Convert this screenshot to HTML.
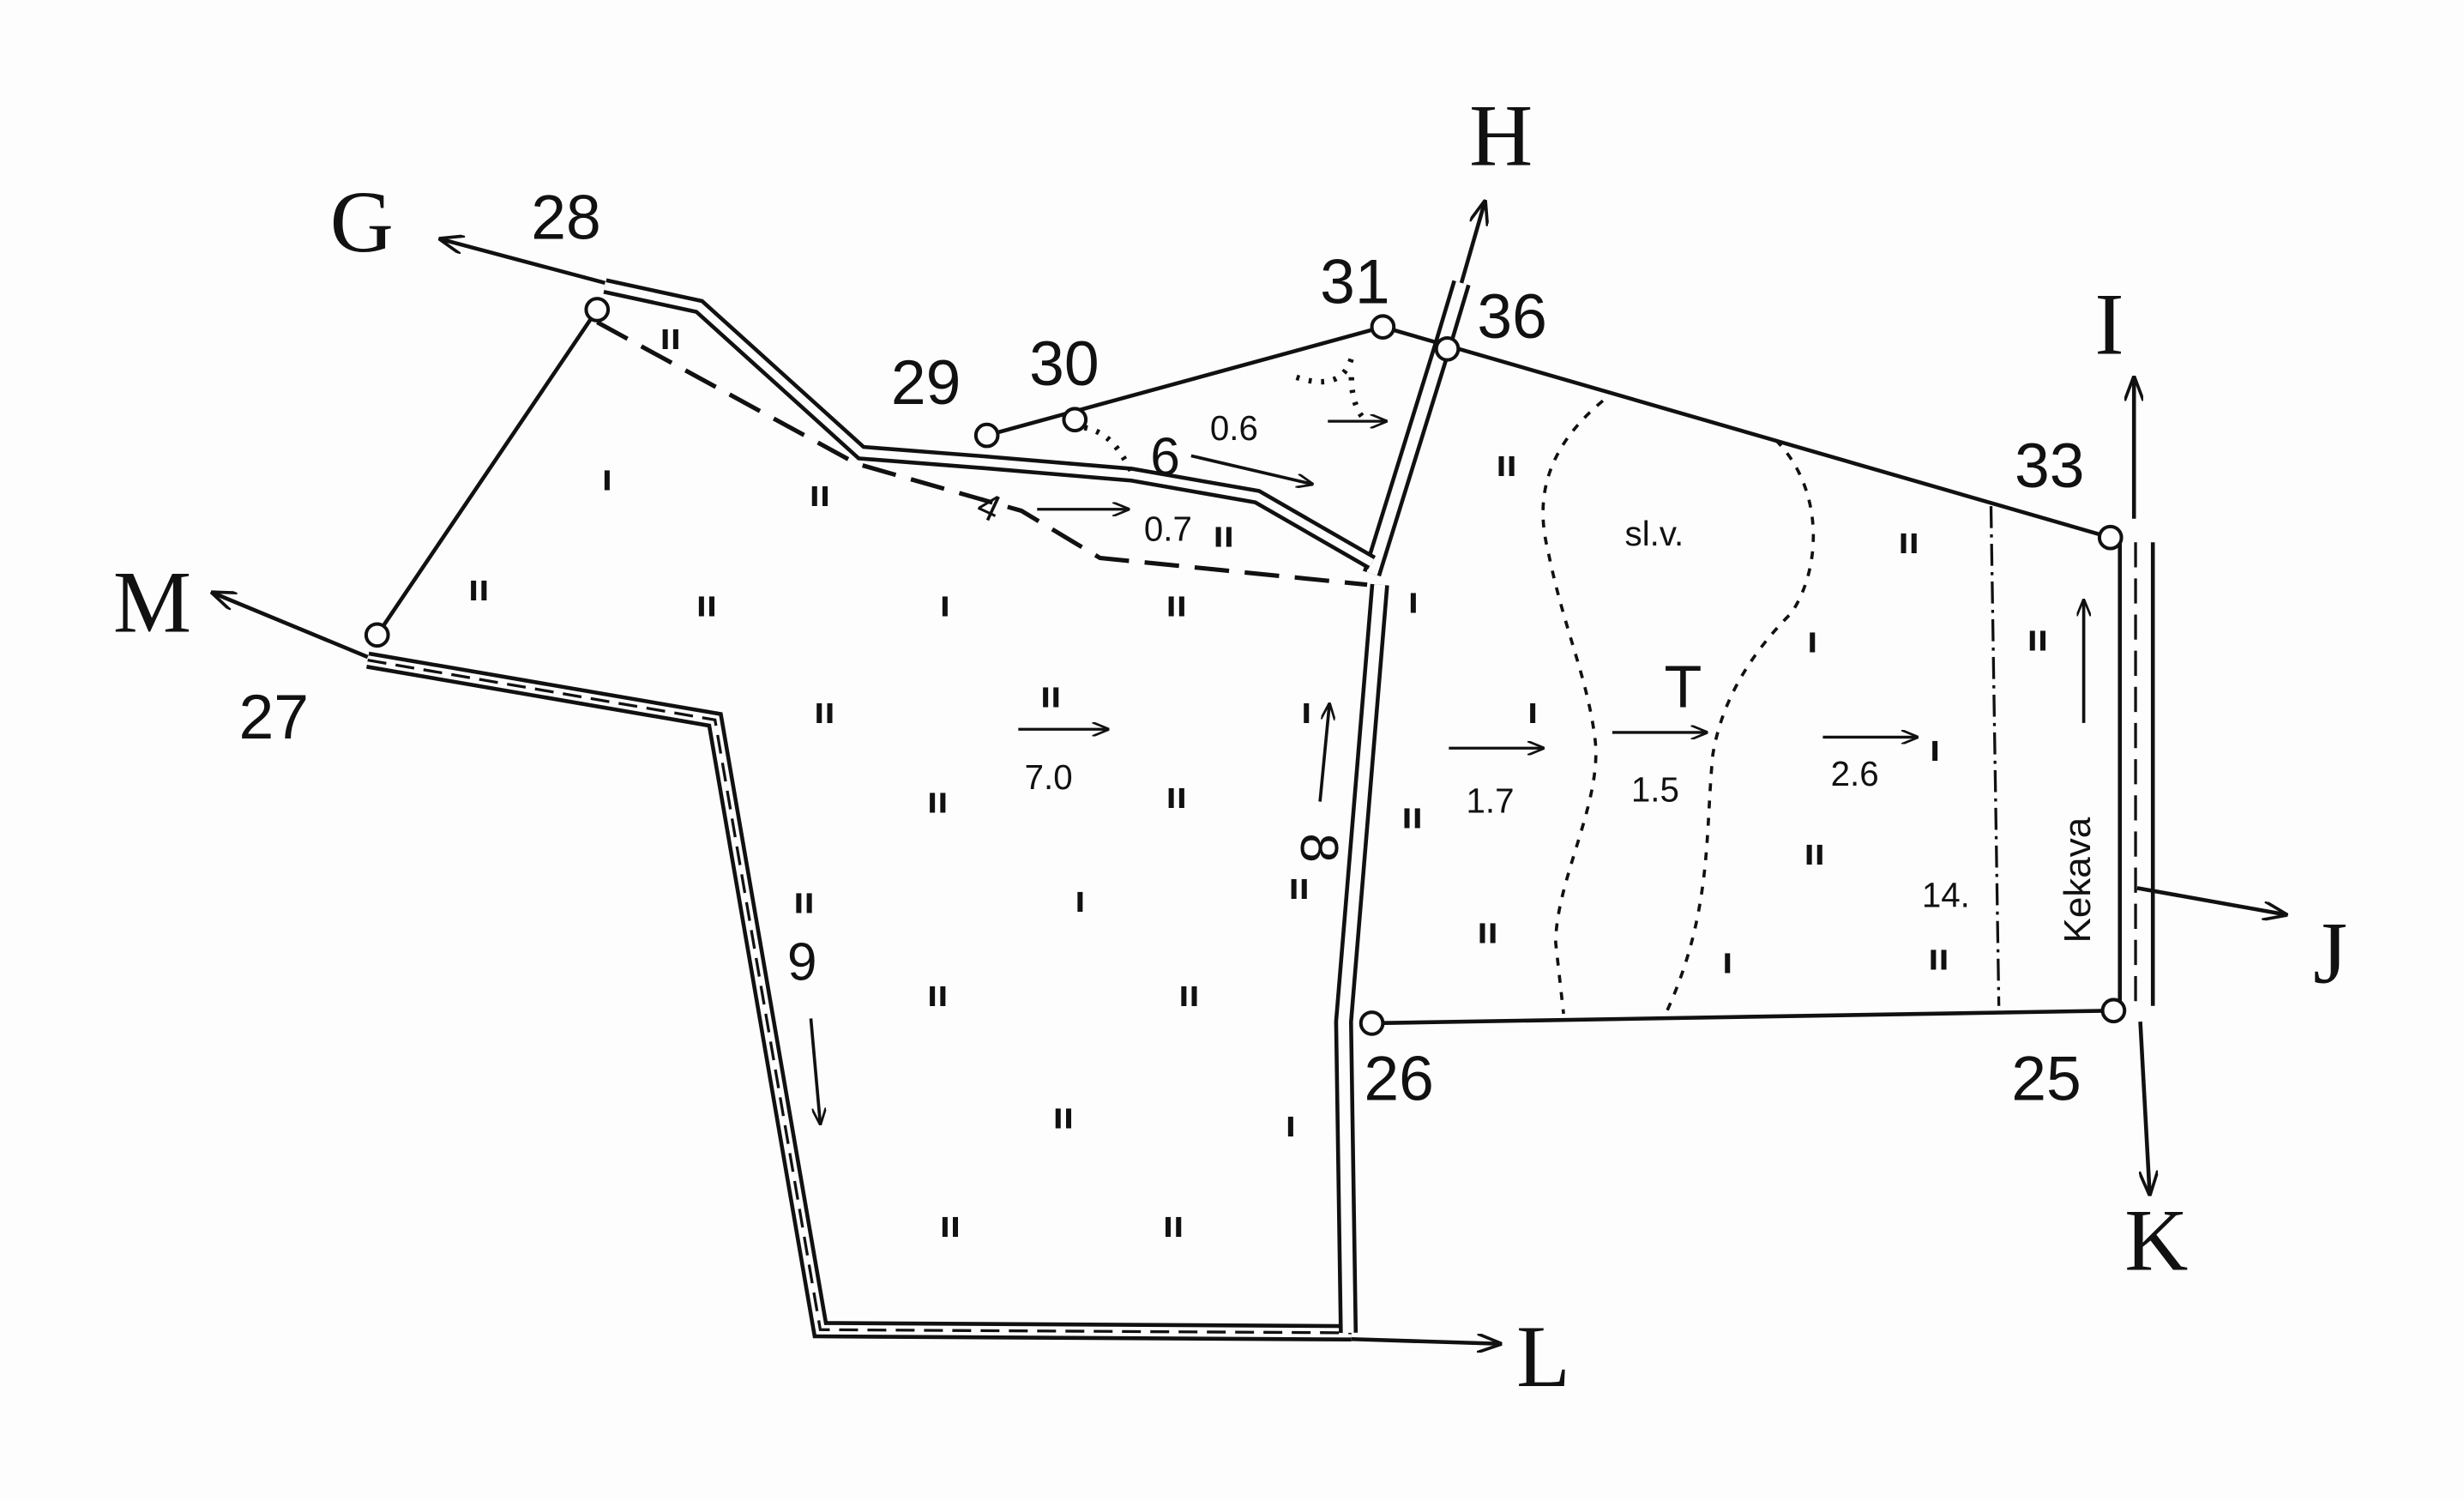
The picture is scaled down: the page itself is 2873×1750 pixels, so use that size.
<!DOCTYPE html>
<html><head><meta charset="utf-8"><style>
html,body{margin:0;padding:0;background:#fdfdfd;}
svg{display:block;}
.sn{font-family:"Liberation Sans",sans-serif;fill:#111;}
.sf{font-family:"Liberation Serif",serif;fill:#111;}
</style></head><body>
<svg width="2873" height="1750" viewBox="0 0 1568 955" preserveAspectRatio="none" xmlns="http://www.w3.org/2000/svg">
<defs>
<marker id="ar" markerWidth="16" markerHeight="12" refX="15" refY="6" orient="auto" markerUnits="userSpaceOnUse"><path d="M0,0 L16,6 L0,12" fill="none" stroke="#111" stroke-width="2"/></marker>
<marker id="as" markerWidth="11" markerHeight="9" refX="10" refY="4.5" orient="auto" markerUnits="userSpaceOnUse"><path d="M0,0 L11,4.5 L0,9" fill="none" stroke="#111" stroke-width="1.5"/></marker>
</defs>
<rect width="1568" height="955" fill="#fdfdfd"/>
<g fill="none" stroke="#111" stroke-width="2.5">
<line x1="380" y1="197" x2="240" y2="404"/>
<line x1="628" y1="277" x2="880" y2="208"/>
<line x1="880" y1="208" x2="1343" y2="342"/>
<line x1="873" y1="651" x2="1345" y2="643"/>
<path d="M234,420 L455,458 L522,846 L860,848" stroke-width="11"/>
<path d="M234,420 L455,458 L522,846 L860,848" stroke="#fdfdfd" stroke-width="6"/>
<path d="M234,420 L455,458 L522,846 L860,848" stroke-width="1.8" stroke-dasharray="12,6"/>
<path d="M878,372 L855,650 L858,848" stroke-width="12"/>
<path d="M878,372 L855,650 L858,848" stroke="#fdfdfd" stroke-width="7"/>
<path d="M873,365 L918,220 L930,180" stroke-width="12"/>
<path d="M873,365 L918,220 L930,180" stroke="#fdfdfd" stroke-width="7"/>
<line x1="930" y1="180" x2="945" y2="128" marker-end="url(#ar)"/>
<path d="M385,182 L445,195 L548,288 L625,294 L720,302 L800,316 L873,358" stroke-width="10"/>
<path d="M385,182 L445,195 L548,288 L625,294 L720,302 L800,316 L873,358" stroke="#fdfdfd" stroke-width="5"/>
<path d="M380,205 L545,295 L650,325 L700,355 L870,372" stroke-width="2.8" stroke-dasharray="22,10"/>
<line x1="1349" y1="345" x2="1349" y2="640"/>
<line x1="1370" y1="345" x2="1370" y2="640"/>
<line x1="1359" y1="345" x2="1359" y2="640" stroke-width="1.8" stroke-dasharray="16,7"/>
<line x1="1358" y1="330" x2="1358" y2="240" marker-end="url(#ar)"/>
<line x1="1362" y1="650" x2="1368" y2="760" marker-end="url(#ar)"/>
<line x1="1360" y1="565" x2="1455" y2="582" marker-end="url(#ar)"/>
<line x1="385" y1="180" x2="280" y2="152" marker-end="url(#ar)"/>
<line x1="234" y1="418" x2="135" y2="377" marker-end="url(#ar)"/>
<line x1="860" y1="852" x2="955" y2="855" marker-end="url(#ar)"/>
<path d="M1020,255 C990,280 975,310 985,350 C995,400 1010,430 1015,470 C1020,510 990,560 990,600 L995,645" stroke-width="2" stroke-dasharray="5,6"/>
<path d="M1130,280 C1160,310 1160,360 1140,390 C1110,420 1095,450 1090,480 C1085,530 1090,580 1060,645" stroke-width="2" stroke-dasharray="5,6"/>
<path d="M1267,322 L1272,640" stroke-width="1.8" stroke-dasharray="14,4,2,4"/>
<path d="M690,272 C705,275 712,285 720,300" stroke-width="3.5" stroke-dasharray="2,6"/>
<path d="M825,240 C840,245 855,245 860,228 M860,240 C860,255 865,265 870,268" stroke-width="3.5" stroke-dasharray="2,6"/>
<line x1="758" y1="290" x2="835" y2="308" stroke-width="2" marker-end="url(#as)"/>
<line x1="660" y1="324" x2="718" y2="324" stroke-width="1.8" marker-end="url(#as)"/>
<line x1="845" y1="268" x2="882" y2="268" stroke-width="1.8" marker-end="url(#as)"/>
<line x1="648" y1="464" x2="705" y2="464" stroke-width="1.8" marker-end="url(#as)"/>
<line x1="922" y1="476" x2="982" y2="476" stroke-width="1.8" marker-end="url(#as)"/>
<line x1="1026" y1="466" x2="1086" y2="466" stroke-width="1.8" marker-end="url(#as)"/>
<line x1="1160" y1="469" x2="1220" y2="469" stroke-width="1.8" marker-end="url(#as)"/>
<line x1="840" y1="510" x2="846" y2="448" stroke-width="2" marker-end="url(#as)"/>
<line x1="516" y1="648" x2="522" y2="715" stroke-width="2" marker-end="url(#as)"/>
<line x1="1326" y1="460" x2="1326" y2="382" stroke-width="2" marker-end="url(#as)"/>
</g>
<g fill="#fdfdfd" stroke="#111" stroke-width="2.2">
<circle cx="380" cy="197" r="7"/><circle cx="240" cy="404" r="7"/>
<circle cx="628" cy="277" r="7"/><circle cx="684" cy="267" r="7"/>
<circle cx="880" cy="208" r="7"/><circle cx="921" cy="222" r="7"/>
<circle cx="1343" cy="342" r="7"/><circle cx="873" cy="651" r="7"/>
<circle cx="1345" cy="643" r="7"/>
</g>
<g class="sf" font-size="56">
<text x="210" y="160">G</text><text x="935" y="105">H</text>
<text x="1333" y="225">I</text><text x="1472" y="625">J</text>
<text x="1352" y="808">K</text><text x="965" y="882">L</text>
<text x="72" y="402">M</text>
</g>
<g class="sn" font-size="40">
<text x="338" y="152">28</text><text x="152" y="470">27</text>
<text x="567" y="257">29</text><text x="655" y="245">30</text>
<text x="840" y="193">31</text><text x="940" y="215">36</text>
<text x="1282" y="310">33</text><text x="868" y="700">26</text>
<text x="1280" y="700">25</text>
<text x="732" y="302" font-size="34">6</text>
</g>
<g class="sn" font-size="22">
<text x="770" y="280">0.6</text><text x="728" y="344">0.7</text>
<text x="652" y="502">7.0</text><text x="933" y="517">1.7</text>
<text x="1038" y="510">1.5</text><text x="1165" y="500">2.6</text>
<text x="1034" y="347">sl.v.</text><text x="1223" y="577">14.</text>
<text x="1060" y="450" font-size="36">ꓔ</text>
<text transform="translate(620,327) rotate(25)" font-size="24">4</text>
<text transform="translate(1330,600) rotate(-90)" font-size="24">Kekava</text>
<text transform="translate(828,530) rotate(90)" font-size="34">8</text>
<text transform="translate(520,600) rotate(180)" font-size="34">6</text>
</g>
<g class="sn" font-size="24" font-weight="bold">
<text x="420" y="222">ıı</text><text x="383" y="312">ı</text><text x="515" y="322">ıı</text>
<text x="298" y="382">ıı</text><text x="443" y="392">ıı</text><text x="598" y="392">ı</text>
<text x="742" y="392">ıı</text><text x="896" y="390">ı</text><text x="772" y="348">ıı</text>
<text x="518" y="460">ıı</text><text x="662" y="450">ıı</text><text x="828" y="460">ı</text>
<text x="972" y="460">ı</text><text x="1150" y="415">ı</text><text x="1208" y="352">ıı</text>
<text x="952" y="303">ıı</text><text x="590" y="517">ıı</text><text x="742" y="514">ıı</text>
<text x="892" y="527">ıı</text><text x="1228" y="484">ı</text><text x="1290" y="414">ıı</text>
<text x="505" y="581">ıı</text><text x="684" y="580">ı</text><text x="820" y="572">ıı</text>
<text x="1148" y="550">ıı</text><text x="940" y="600">ıı</text><text x="1096" y="619">ı</text>
<text x="1227" y="617">ıı</text><text x="590" y="640">ıı</text><text x="750" y="640">ıı</text>
<text x="670" y="718">ıı</text><text x="818" y="723">ı</text><text x="598" y="787">ıı</text>
<text x="740" y="787">ıı</text>
</g>
</svg>
</body></html>
